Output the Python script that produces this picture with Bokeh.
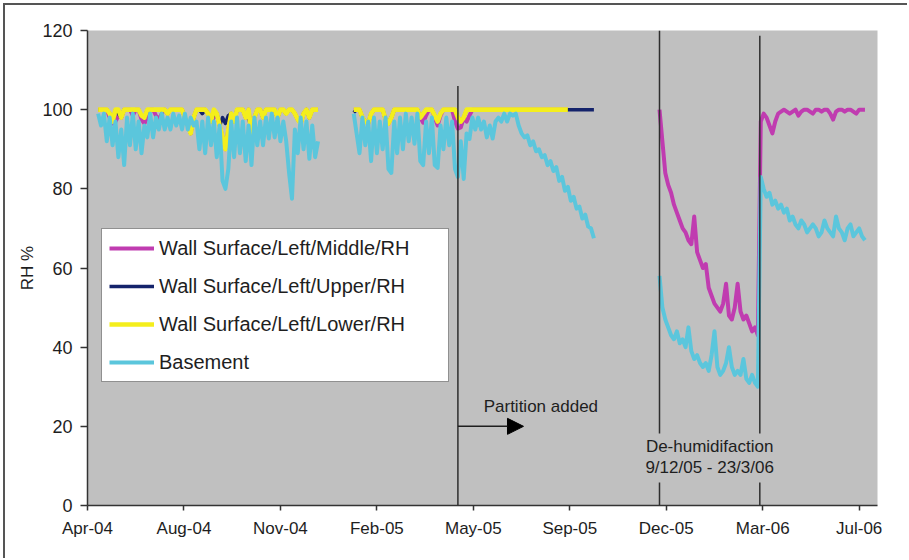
import numpy as np
import pandas as pd
from bokeh.plotting import figure
from bokeh.models import (ColumnDataSource, Range1d, FixedTicker, DatetimeTickFormatter,
                          Label, Arrow, NormalHead)
from bokeh.embed import file_html
from bokeh.resources import INLINE

# ---------------- data ----------------
STEP = "3D"
SEG1_START = "2004-05-06"
SEG2_START = "2005-01-26"
SEG3_START = "2005-12-09"

SERIES_NAMES = ["Wall Surface/Left/Middle/RH", "Wall Surface/Left/Upper/RH",
                "Wall Surface/Left/Lower/RH", "Basement"]

middle_1 = [100, 100, 100, 100, 98, 96.5, 97, 98.5, 98, 100,
            100, 100, 98.5, 100, 100, 97.5, 96.5, 98, 100, 100,
            98.5, 97.5, 99, 100, 99, 100, 100, 100, 100, 100,
            98, 96, 94, 98, 100, 100, 100, 100, 99, 97,
            98, 99, 96, 93, 90, 95, 99, 97, 100, 100,
            100, 98, 100, 94, 98, 100, 100, 98, 100, 100,
            100, 100, 98, 100, 100, 99, 100, 100, 99, 97.5,
            96.5, 99, 100, 98, 100, 100, 100]
upper_1 = [100, 100, 100, 100, 99, 97, 100, 99, 98, 100,
           100, 100, 100, 100, 100, 98.5, 98, 100, 100, 100,
           100, 100, 100, 100, 99, 100, 100, 100, 100, 100,
           98, 96, 94, 98, 100, 100, 99, 100, 99, 97,
           99, 99, 96, 98, 96.5, 98.5, 99, 97, 100, 100,
           100, 98, 98.5, 94, 98, 100, 100, 98, 100, 100,
           100, 100, 98, 100, 100, 99, 100, 100, 99, 97.5,
           96.5, 99, 100, 98, 100, 100, 100]
lower_1 = [100, 100, 100, 100, 99, 97, 100, 100, 98, 100,
           100, 100, 100, 100, 100, 98.5, 98, 100, 100, 100,
           100, 100, 100, 100, 99, 100, 100, 100, 100, 100,
           98, 96, 94, 98, 100, 100, 100, 100, 99, 97,
           100, 99, 96, 93, 90, 95, 99, 97, 100, 100,
           100, 98, 100, 94, 98, 100, 100, 98, 100, 100,
           100, 100, 98, 100, 100, 99, 100, 100, 99, 97.5,
           96.5, 99, 100, 98, 100, 100, 100]
basement_1 = [99, 96, 99, 92, 98, 91, 97, 88, 95, 86,
              98, 91, 99, 90, 97, 89, 96, 93, 99, 93,
              98, 95, 99, 95, 98, 95, 99, 96, 98.5, 95,
              99, 95, 98, 96, 97, 90, 97, 89, 98, 91,
              97, 88, 96, 82, 80, 85, 97, 88, 98, 89,
              97, 87, 96, 86, 98, 91, 97, 91, 98, 92.7,
              99, 93, 98, 92, 97, 92, 84, 77.5, 95, 89,
              98, 90, 97, 87.6, 96, 88, 92]

middle_2 = [100, 100, 100, 98, 97, 96.5, 99, 100, 100, 100,
            100, 97.5, 96.5, 98, 100, 100, 100, 100, 100, 100,
            100, 100, 100, 98, 96.7, 98.5, 100, 100, 98, 96,
            98.5, 100, 100, 100, 100, 97, 95.2, 95.5, 98, 97,
            98.5, 100, 100, 100, 100, 100, 100, 100, 100, 100,
            100, 100, 100, 100, 100, 100, 100, 100, 100, 100,
            100, 100, 100, 100, 100, 100, 100, 100, 100, 100,
            100, 100, 100, 100, 100]
upper_2 = [99.3, 100, 100, 98, 97, 96.5, 99, 100, 100, 100,
           100, 97.5, 96.5, 98, 100, 100, 100, 100, 100, 100,
           100, 100, 100, 98, 99, 100, 100, 100, 98.5, 97,
           99, 100, 100, 100, 100, 100, 98, 97, 98, 100,
           100, 100, 100, 100, 100, 100, 100, 100, 100, 100,
           100, 100, 100, 100, 100, 100, 100, 100, 100, 100,
           100, 100, 100, 100, 100, 100, 100, 100, 100, 100,
           100, 100, 100, 100, 100, 100, 100, 100, 100, 100,
           100, 100, 100, 100]
lower_2 = [100, 100, 100, 98, 97, 96.5, 99, 100, 100, 100,
           100, 97.5, 96.5, 98, 100, 100, 100, 100, 100, 100,
           100, 100, 100, 98, 99, 100, 100, 100, 98.5, 97,
           99, 100, 100, 100, 100, 100, 98, 97, 98, 100,
           100, 100, 100, 100, 100, 100, 100, 100, 100, 100,
           100, 100, 100, 100, 100, 100, 100, 100, 100, 100,
           100, 100, 100, 100, 100, 100, 100, 100, 100, 100,
           100, 100, 100, 100, 100]
basement_2 = [99, 94, 89, 98, 91, 97, 87, 98, 89, 97,
              90, 98, 85, 84, 97, 89, 98, 90, 99, 92,
              98, 91.4, 99, 87, 86, 97, 89, 98, 86, 85.3,
              96, 90, 98, 91, 97, 85, 83, 92, 82.5, 94,
              92.6, 98, 95, 98, 95, 97, 93, 96, 92.7, 97,
              98, 97, 99, 97, 99, 98.5, 99, 96, 94, 93,
              93.5, 91, 92, 89.5, 90, 88, 88.5, 86, 87, 84.5,
              85.5, 82, 83, 79.5, 80.5, 77, 78, 75, 75.5, 72.5,
              73.5, 70.5, 70, 67.5]

middle_3 = [100, 92, 84, 81, 79, 76, 74, 72, 70, 69,
            67, 66, 73, 64, 62, 60, 61, 55, 53, 51,
            50, 49, 51, 56, 48, 47, 50, 56, 49, 47,
            48, 46, 44, 45, 43, 97, 99, 98, 96, 94,
            97, 99, 99.5, 100, 99.5, 99, 99.5, 100, 98.5, 99.5,
            100, 100, 99.5, 99, 100, 100, 99.5, 100, 100, 99,
            97.5, 99.5, 100, 100, 99.5, 100, 100, 99.5, 99, 100,
            100, 100]
basement_3 = [58, 50, 47, 45, 43, 42, 44, 41, 42, 40,
              45, 39, 37, 38, 36, 35, 36, 34, 38, 44,
              35, 33, 34, 36, 40, 35, 33, 34, 33, 37,
              32, 31, 33, 31, 30, 83, 80, 78, 79, 76,
              77, 75, 76, 74, 75, 72, 73, 71, 70, 72,
              71, 69, 70, 71, 70, 68, 69, 72, 70, 69,
              68, 73, 70, 69, 67, 70, 71, 68, 69, 70,
              68, 67]

COLORS = ["#c03cb0", "#14236b", "#f4ee1c", "#5bc6dc"]
WIDTHS = [4, 3.5, 4.6, 4]

# axis / events
AXIS_START = "2004-04-25"
AXIS_END = "2006-07-23"
X_TICK_EVERY_DAYS = 100
X_TICK_COUNT = 9
Y_TICKS = [0, 20, 40, 60, 80, 100, 120]
PARTITION_DATE = "2005-05-14"
DEHUM_START = "2005-12-09"
DEHUM_END = "2006-03-23"
FONT = "Liberation Sans"
TXT = "#1e1e1e"


def ms(s):
    return pd.Timestamp(s).value / 1e6


def build(segments):
    xs, ys = [], []
    for k, (start, vals) in enumerate(segments):
        d = pd.date_range(start, periods=len(vals), freq=STEP)
        if k > 0:
            xs.append(d[0] - pd.Timedelta(days=1))
            ys.append(np.nan)
        xs.extend(list(d))
        ys.extend(vals)
    return ColumnDataSource(dict(x=pd.DatetimeIndex(xs).to_numpy(),
                                 y=np.array(ys, dtype=float)))


sources = [
    build([(SEG1_START, middle_1), (SEG2_START, middle_2), (SEG3_START, middle_3)]),
    build([(SEG1_START, upper_1), (SEG2_START, upper_2)]),
    build([(SEG1_START, lower_1), (SEG2_START, lower_2)]),
    build([(SEG1_START, basement_1), (SEG2_START, basement_2), (SEG3_START, basement_3)]),
]

# ---------------- figure ----------------
p = figure(width=904, height=555, x_axis_type="datetime",
           x_range=Range1d(ms(AXIS_START), ms(AXIS_END)), y_range=Range1d(0, 120),
           output_backend="svg", toolbar_location=None,
           min_border_left=82, min_border_right=32, min_border_top=25, min_border_bottom=55,
           background_fill_color="#c0c0c0", border_fill_color="white",
           outline_line_color=None)
p.styles = {"margin-top": "3px", "margin-left": "3px",
            "border-top": "2px solid #555555", "border-left": "2px solid #555555"}
p.xgrid.grid_line_color = None
p.ygrid.grid_line_color = None

for src, name, col, w in zip(sources, SERIES_NAMES, COLORS, WIDTHS):
    p.line("x", "y", source=src, color=col, line_width=w, line_join="round",
           legend_label=name)

# event lines
ev = ColumnDataSource(dict(
    x=[ms(PARTITION_DATE), ms(DEHUM_START), ms(DEHUM_START), ms(DEHUM_END), ms(DEHUM_END)],
    y0=[0, 0, 18.2, 0, 18.2],
    y1=[106, 5.8, 120, 5.8, 118.7]))
p.segment(x0="x", y0="y0", x1="x", y1="y1", source=ev, color="#2e2e2e", line_width=1.5)

p.add_layout(Arrow(end=NormalHead(size=16, fill_color="black", line_color="black"),
                   x_start=ms(PARTITION_DATE), y_start=20,
                   x_end=ms(PARTITION_DATE) + 68 * 86400000, y_end=20,
                   line_color="#1e1e1e", line_width=1.5))
p.add_layout(Label(x=ms(PARTITION_DATE) + 86 * 86400000, y=25, text="Partition added",
                   text_align="center", text_baseline="middle", text_font=FONT,
                   text_font_size="17px", text_color=TXT))
mid = ms(DEHUM_START) + (ms(DEHUM_END) - ms(DEHUM_START)) / 2
p.add_layout(Label(x=mid, y=14.9, text="De-humidifaction", text_align="center",
                   text_baseline="middle", text_font=FONT, text_font_size="17px",
                   text_color=TXT))
p.add_layout(Label(x=mid, y=9.6, text="9/12/05 - 23/3/06", text_align="center",
                   text_baseline="middle", text_font=FONT, text_font_size="17px",
                   text_color=TXT))

# axes
x_ticks = [ms(AXIS_START) + k * X_TICK_EVERY_DAYS * 86400000 for k in range(X_TICK_COUNT)]
p.xaxis.ticker = FixedTicker(ticks=x_ticks)
fmt = "%b-%y"
p.xaxis.formatter = DatetimeTickFormatter(milliseconds=fmt, seconds=fmt, minsec=fmt,
                                          minutes=fmt, hourmin=fmt, hours=fmt, days=fmt,
                                          months=fmt, years=fmt)
p.yaxis.ticker = FixedTicker(ticks=Y_TICKS)
p.yaxis.axis_label = "RH %"
for ax in (p.xaxis, p.yaxis):
    ax.axis_line_color = "#333333"
    ax.axis_line_width = 1.5
    ax.major_tick_line_color = "#333333"
    ax.major_tick_line_width = 1.5
    ax.major_tick_in = 0
    ax.minor_tick_line_color = None
    ax.major_label_text_font = FONT
    ax.major_label_text_color = TXT
    ax.major_label_standoff = 8
p.xaxis.major_tick_out = 5
p.yaxis.major_tick_out = 7
p.xaxis.major_label_text_font_size = "17px"
p.yaxis.major_label_text_font_size = "18px"
p.yaxis.axis_label_text_font = FONT
p.yaxis.axis_label_text_font_size = "17px"
p.yaxis.axis_label_text_font_style = "normal"
p.yaxis.axis_label_text_color = TXT
p.yaxis.axis_label_standoff = 2

lg = p.legend[0]
lg.location = (14, 123)
lg.label_text_font = FONT
lg.label_text_font_size = "20px"
lg.label_text_color = TXT
lg.glyph_width = 45
lg.glyph_height = 24
lg.label_height = 24
lg.label_width = 282
lg.label_standoff = 5
lg.spacing = 14
lg.padding = 7
lg.margin = 0
lg.border_line_color = "#222222"
lg.border_line_width = 1.5
lg.background_fill_color = "white"
lg.background_fill_alpha = 1.0

open("out.html", "w").write(file_html(p, INLINE))
